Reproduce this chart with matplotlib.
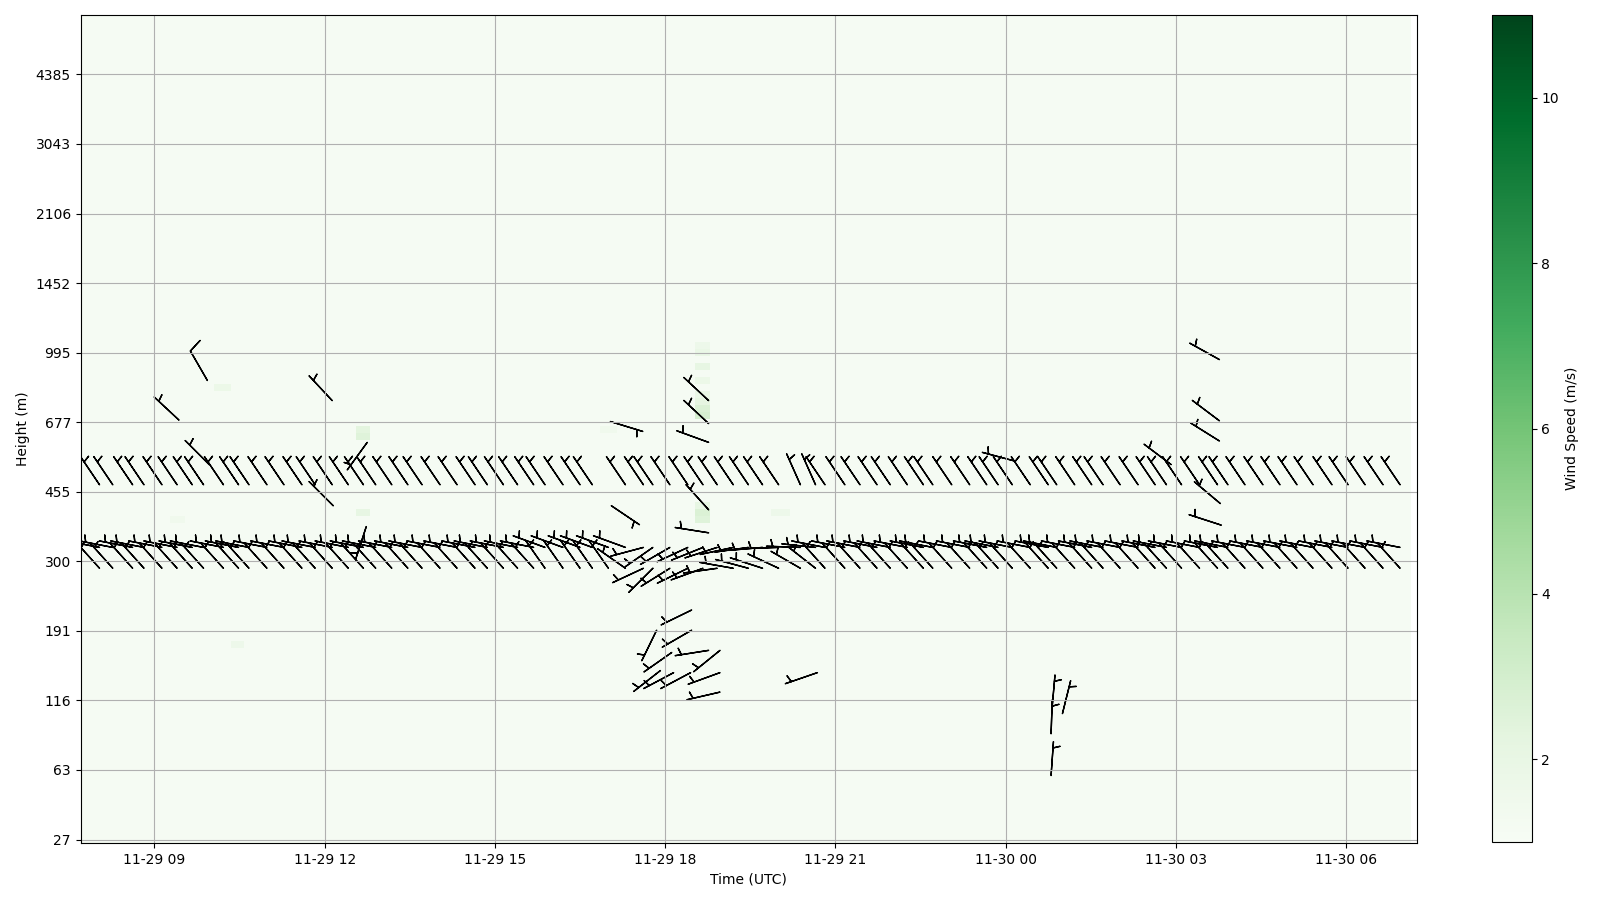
import numpy as np
import pandas as pd
import matplotlib
matplotlib.use("Agg")
import matplotlib.pyplot as plt
import matplotlib.dates as mdates

nan = np.nan

# time stamps of the profiles (UTC)
times = ["11-29 08:02", "11-29 08:16", "11-29 08:37", "11-29 08:49", "11-29 09:08", "11-29 09:24", "11-29 09:40", "11-29 09:52", "11-29 10:13", "11-29 10:29",
         "11-29 10:40", "11-29 10:59", "11-29 11:17", "11-29 11:36", "11-29 11:50", "11-29 12:08", "11-29 12:25", "11-29 12:41", "11-29 12:54", "11-29 13:11",
         "11-29 13:28", "11-29 13:43", "11-29 14:02", "11-29 14:20", "11-29 14:39", "11-29 14:52", "11-29 15:09", "11-29 15:24", "11-29 15:41", "11-29 15:53",
         "11-29 16:12", "11-29 16:30", "11-29 16:43", "11-29 17:00", "11-29 17:18", "11-29 17:37", "11-29 17:47", "11-29 18:05", "11-29 18:24", "11-29 18:40",
         "11-29 18:55", "11-29 19:12", "11-29 19:28", "11-29 19:43", "11-29 20:00", "11-29 20:23", "11-29 20:39", "11-29 20:49", "11-29 21:10", "11-29 21:26",
         "11-29 21:44", "11-29 21:58", "11-29 22:16", "11-29 22:33", "11-29 22:43", "11-29 23:03", "11-29 23:22", "11-29 23:40", "11-29 23:52", "11-30 00:07",
         "11-30 00:26", "11-30 00:45", "11-30 00:54", "11-30 01:13", "11-30 01:31", "11-30 01:43", "11-30 02:01", "11-30 02:20", "11-30 02:38", "11-30 02:50",
         "11-30 03:06", "11-30 03:25", "11-30 03:44", "11-30 03:55", "11-30 04:13", "11-30 04:32", "11-30 04:50", "11-30 05:08", "11-30 05:25", "11-30 05:45",
         "11-30 06:02", "11-30 06:20", "11-30 06:39", "11-30 06:57"]
mesh_start = "11-29 07:42"
mesh_end = "11-30 07:09"
view_start = "11-29 07:42"
view_end = "11-30 07:15"

# height of every 10th range gate (m)
height_ticks = [27, 63, 116, 191, 300, 455, 677, 995, 1452, 2106, 3043, 4385]
n_levels = 119

# three gates with continuous barbs
level_A = 51
level_B = 42
level_C = 39
speed_A = 7
speed_B = 7
speed_C = 7

# wind direction (deg) per profile
dir_A = [326, 326, 326, 326, 326, 326, 326, 326, 326, 326,
         326, 326, 326, 326, 326, 326, 326, 326, 326, 326,
         326, 326, 326, 326, 326, 326, 326, 326, 326, 326,
         326, 326, 326, nan, 326, 326, 326, 326, 326, 326,
         326, 326, 326, 326, 326, 336, 336, 326, 326, 326,
         326, 326, 326, 326, 326, 326, 326, 326, 326, 326,
         326, 326, 326, 326, 326, 326, 326, 326, 326, 326,
         326, 326, 326, 326, 326, 326, 326, 326, 326, 326,
         326, 326, 326, 326]
dir_B = [281, 281, 281, 281, 281, 281, 281, 281, 281, 281,
         281, 281, 281, 281, 281, 281, 281, 281, 281, 281,
         281, 281, 281, 281, 281, 281, 281, 281, 281, 290,
         290, 290, 290, 290, 290, 255, 235, 240, 245, 248,
         252, 258, 262, 265, 268, 272, 276, 281, 281, 281,
         281, 281, 281, 281, 281, 281, 281, 281, 281, 281,
         281, 281, 281, 281, 281, 281, 281, 281, 281, 281,
         281, 281, 281, 281, 281, 281, 281, 281, 281, 281,
         281, 281, 281, 281]
dir_C = [318, 318, 318, 318, 318, 318, 318, 318, 318, 318,
         318, 318, 318, 318, 318, 318, 318, 318, 318, 318,
         318, 318, 318, 318, 318, 318, 318, 318, 318, 325,
         325, 325, 325, 325, 305, 245, 225, 238, 244, 250,
         262, 280, 285, 288, 295, 300, 308, 318, 318, 318,
         318, 318, 318, 318, 318, 318, 318, 318, 318, 318,
         318, 318, 318, 318, 318, 318, 318, 318, 318, 318,
         318, 318, 318, 318, 318, 318, 318, 318, 318, 318,
         318, 318, 318, 318]

# isolated barbs at other gates
extra_time = ["11-29 09:26", "11-29 09:56", "11-29 09:58", "11-29 12:08", "11-29 12:09", "11-29 12:45", "11-29 12:44",
              "11-29 17:02", "11-29 17:03", "11-29 18:46", "11-29 18:46", "11-29 18:46", "11-29 18:46", "11-29 18:46",
              "11-29 18:28", "11-29 18:28", "11-29 17:51", "11-29 18:46", "11-29 18:58", "11-29 17:55", "11-29 18:09",
              "11-29 18:07", "11-29 18:27", "11-29 18:58", "11-29 18:58", "11-29 20:41",
              "11-30 00:48", "11-30 00:49", "11-30 01:00", "11-30 00:48",
              "11-30 03:46", "11-30 03:46", "11-30 03:46", "11-30 03:47", "11-30 03:48", "11-30 02:55", "11-30 00:10"]
extra_level = [60.3, 66.0, 53.9, 63.1, 48.0, 57.1, 45.0,
               60.1, 48.0, 63.1, 59.8, 57.1, 47.4, 44.1,
               33.0, 30.1, 30.1, 27.2, 27.2, 24.3, 24.0,
               26.9, 24.0, 24.0, 21.2, 24.0,
               15.2, 18.8, 18.1, 9.2,
               69.0, 60.2, 57.3, 48.3, 45.2, 53.9, 54.4]
extra_dir = [313, 330, 315, 317, 315, 216, 198,
             107, 124, 313, 313, 290, 318, 279,
             244, 240, 206, 261, 231, 232, 242,
             235, 242, 250, 257, 251,
             2, 5, 14, 4,
             299, 307, 302, 310, 288, 307, 285]
extra_speed = [7, 12, 7, 7, 7, 7, 7,
               7, 7, 7, 7, 7, 7, 7,
               7, 7, 7, 7, 7, 7, 7,
               7, 7, 7, 7, 7,
               7, 7, 7, 7,
               7, 7, 7, 7, 7, 7, 7]

# wind speed field: near-calm background with a few stronger cells
background_speed = 1.15
patch_time_idx = [8, 17, 17, 17, 9, 39, 39, 39, 39, 39, 39, 39, 39, 39, 39, 39, 44, 33, 5]
patch_level = [65, 58, 59, 47, 28, 61, 62, 63, 64, 66, 68, 70, 71, 46, 47, 48, 47, 59, 46]
patch_speed = [1.8, 2.5, 2.3, 2.1, 1.7, 2.9, 2.7, 2.2, 1.9, 1.8, 2.1, 1.9, 1.7, 2.5, 2.7, 2.1, 1.7, 1.5, 1.5]


def to_num(stamps):
    return mdates.date2num(pd.to_datetime(["2024-" + s for s in stamps]))


def uv(direction, speed):
    d = np.radians(np.asarray(direction, dtype=float))
    return -speed * np.sin(d), -speed * np.cos(d)


t = to_num(times)
t_edges = np.concatenate([to_num([mesh_start]), (t[:-1] + t[1:]) / 2, to_num([mesh_end])])
z_edges = np.arange(n_levels + 1) - 0.5

speed = np.full((n_levels, len(times)), background_speed)
for i, lev, s in zip(patch_time_idx, patch_level, patch_speed):
    speed[lev, i] = s

fig = plt.figure(figsize=(16, 9), dpi=100)
ax = fig.add_axes([0.0504, 0.0633, 0.8353, 0.9197])
cax = fig.add_axes([0.9324, 0.0647, 0.0249, 0.9183])

mesh = ax.pcolormesh(t_edges, z_edges, speed, cmap="Greens", vmin=1, vmax=11, shading="flat")

for lev, dirs, spd in [(level_A, dir_A, speed_A), (level_B, dir_B, speed_B), (level_C, dir_C, speed_C)]:
    dirs = np.array(dirs, dtype=float)
    ok = ~np.isnan(dirs)
    u, v = uv(dirs[ok], spd)
    ax.barbs(t[ok], np.full(ok.sum(), lev), u, v, length=7, color="k")

u, v = uv(extra_dir, np.array(extra_speed, dtype=float))
ax.barbs(to_num(extra_time), extra_level, u, v, length=7, color="k")

ax.set_xlim(to_num([view_start])[0], to_num([view_end])[0])
ax.set_ylim(-0.5, n_levels - 0.5)
ax.set_yticks(np.arange(0, 10 * len(height_ticks), 10))
ax.set_yticklabels([str(h) for h in height_ticks])
ax.xaxis.set_major_locator(mdates.HourLocator(byhour=range(0, 24, 3)))
ax.xaxis.set_major_formatter(mdates.DateFormatter("%m-%d %H"))
ax.grid(True)
ax.set_xlabel("Time (UTC)")
ax.set_ylabel("Height (m)")

fig.colorbar(mesh, cax=cax, label="Wind Speed (m/s)")

fig.savefig("out.png", dpi=100)
